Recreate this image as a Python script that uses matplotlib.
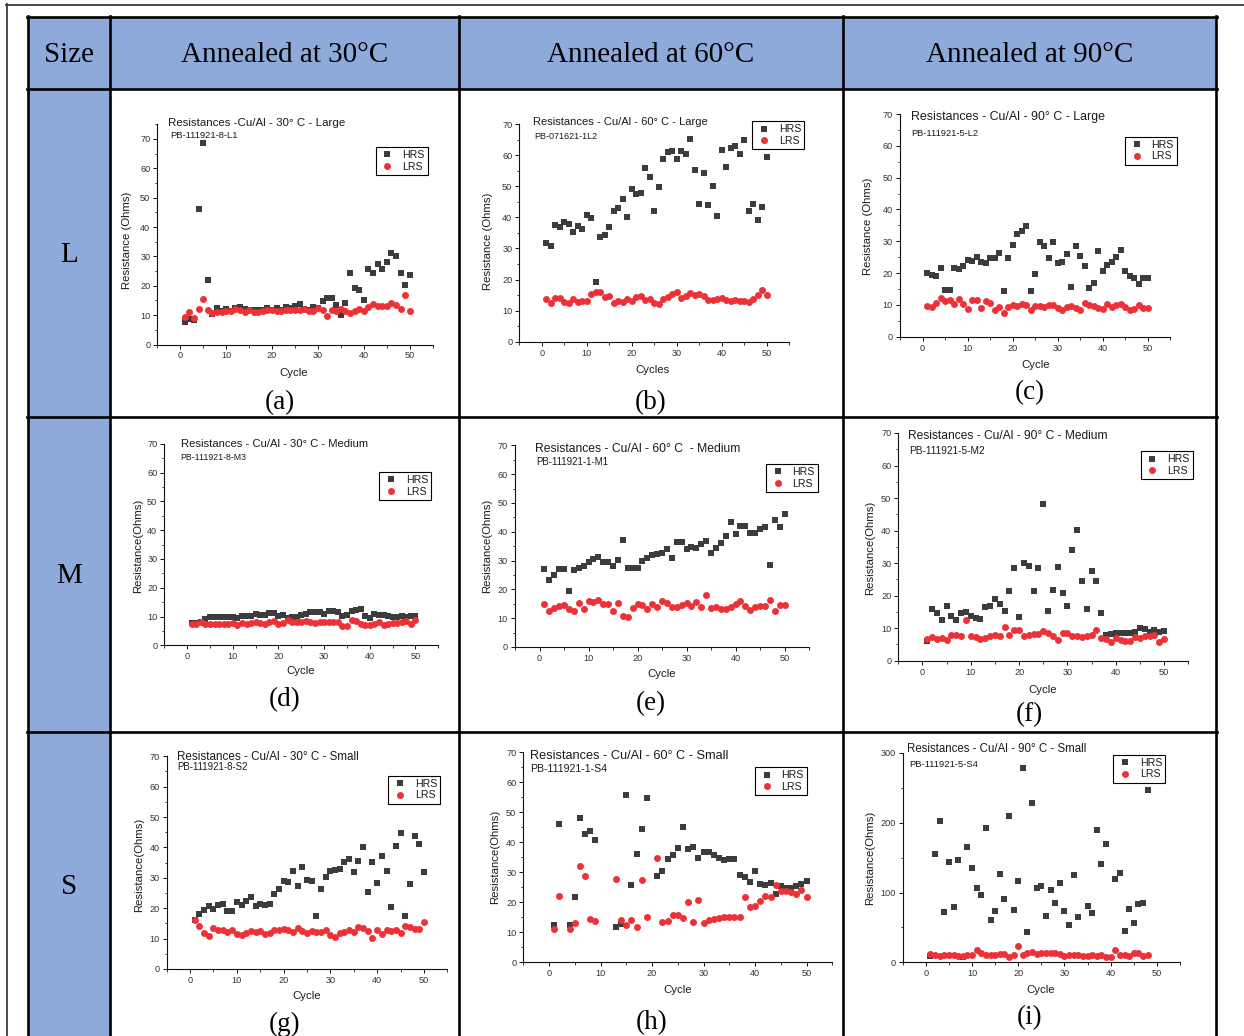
import numpy as np
import matplotlib
matplotlib.use('Agg')
import matplotlib.pyplot as plt
import matplotlib.transforms as mtransforms
from matplotlib.patches import Rectangle
from matplotlib.lines import Line2D
from matplotlib.ticker import MultipleLocator

# ---------------- data ----------------
col_headers = ["Size", "Annealed at 30°C", "Annealed at 60°C", "Annealed at 90°C"]
row_labels = ["L", "M", "S"]
captions = ["(a)", "(b)", "(c)", "(d)", "(e)", "(f)", "(g)", "(h)", "(i)"]

titles = ["Resistances -Cu/Al - 30° C - Large",
          "Resistances - Cu/Al - 60° C - Large",
          "Resistances - Cu/Al - 90° C - Large",
          "Resistances - Cu/Al - 30° C - Medium",
          "Resistances - Cu/Al - 60° C  - Medium",
          "Resistances - Cu/Al - 90° C - Medium",
          "Resistances - Cu/Al - 30° C - Small",
          "Resistances - Cu/Al - 60° C - Small",
          "Resistances - Cu/Al - 90° C - Small"]
sample_ids = ["PB-111921-8-L1", "PB-071621-1L2", "PB-111921-5-L2",
              "PB-111921-8-M3", "PB-111921-1-M1", "PB-111921-5-M2",
              "PB-111921-8-S2", "PB-111921-1-S4", "PB-111921-5-S4"]
ylabels = ["Resistance (Ohms)", "Resistance (Ohms)", "Resistance (Ohms)",
           "Resistance(Ohms)", "Resistance(Ohms)", "Resistance(Ohms)",
           "Resistance(Ohms)", "Resistance(Ohms)", "Resistance(Ohms)"]
xlabels = ["Cycle", "Cycles", "Cycle", "Cycle", "Cycle", "Cycle", "Cycle", "Cycle", "Cycle"]
series_names = ["HRS", "LRS"]

cycles_50 = list(range(1, 51))

HRS_a = [7.8, 8.8, 8.5, 46.3, 68.8, 21.8, 10.3, 12.3, 11.5, 12.0,
         11.5, 12.3, 12.7, 12.0, 11.7, 11.7, 11.7, 11.7, 12.6, 11.9,
         12.3, 11.7, 12.8, 12.5, 13.1, 13.7, 12.2, 11.7, 12.8, 12.6,
         14.7, 15.7, 16.0, 13.4, 9.9, 14.2, 24.4, 19.4, 18.5, 15.0,
         25.6, 24.4, 27.3, 25.6, 28.0, 31.0, 30.3, 24.3, 20.1, 23.8]
LRS_a = [9.5, 11.0, 9.1, 12.0, 15.6, 11.8, 10.8, 10.9, 11.1, 11.5,
         11.4, 12.0, 11.6, 11.1, 11.7, 10.9, 10.9, 11.5, 11.7, 11.7,
         11.5, 11.3, 11.8, 11.9, 11.8, 11.7, 12.0, 11.3, 11.4, 12.3,
         11.6, 9.7, 11.6, 11.3, 12.0, 11.4, 10.8, 11.3, 12.2, 11.5,
         12.8, 13.9, 13.2, 13.1, 13.2, 14.2, 13.4, 12.2, 16.7, 11.4]

HRS_b = [31.8, 30.9, 37.5, 36.8, 38.6, 37.9, 35.4, 37.2, 36.3, 40.6,
         39.9, 19.3, 33.7, 34.2, 36.9, 42.1, 43.0, 46.0, 40.2, 49.1,
         47.4, 47.9, 55.7, 53.0, 42.1, 49.6, 58.6, 60.9, 61.3, 58.8,
         61.2, 60.3, 65.1, 55.1, 44.4, 54.1, 44.0, 50.2, 40.3, 61.5,
         56.2, 62.4, 62.8, 60.3, 64.7, 41.9, 44.3, 39.1, 43.2, 59.4]
LRS_b = [13.6, 12.6, 14.0, 14.2, 12.8, 12.6, 13.7, 12.9, 13.2, 13.2,
         15.3, 15.9, 16.1, 14.5, 14.8, 12.3, 13.0, 12.8, 13.7, 13.0,
         14.4, 14.7, 13.4, 13.6, 12.3, 12.2, 13.7, 14.5, 15.3, 16.0,
         14.1, 14.7, 15.5, 14.9, 15.2, 14.8, 13.3, 13.4, 13.6, 14.0,
         13.5, 13.0, 13.3, 13.0, 13.0, 12.9, 13.6, 15.1, 16.5, 15.0]

HRS_c = [20.1, 19.5, 19.1, 21.7, 14.6, 14.7, 21.6, 21.3, 22.3, 24.0,
         23.9, 24.9, 23.6, 23.3, 24.6, 24.8, 26.2, 14.3, 24.7, 28.7,
         32.4, 33.1, 34.9, 14.3, 19.8, 29.7, 28.6, 24.8, 29.8, 23.3,
         23.6, 26.1, 15.5, 28.4, 25.5, 22.1, 15.4, 16.9, 26.8, 20.6,
         22.5, 23.4, 25.1, 27.1, 20.5, 19.1, 18.4, 16.5, 18.5, 18.5]
LRS_c = [9.6, 9.4, 10.5, 12.3, 11.1, 11.4, 10.2, 12.0, 10.2, 8.6,
         11.4, 11.5, 9.0, 11.3, 10.7, 8.4, 9.4, 7.5, 9.3, 10.1,
         9.5, 10.3, 10.0, 8.5, 9.7, 9.5, 9.2, 10.1, 10.0, 9.0,
         8.5, 9.2, 9.7, 9.1, 8.4, 10.5, 10.1, 9.5, 8.9, 8.8,
         10.2, 9.2, 9.9, 10.3, 9.2, 8.3, 8.6, 9.9, 9.1, 9.0]

HRS_d = [7.6, 7.8, 8.0, 9.0, 9.7, 9.7, 9.8, 9.8, 10.0, 10.0,
         9.6, 10.2, 10.2, 10.3, 10.8, 10.4, 10.6, 11.2, 11.3, 10.1,
         10.4, 9.5, 9.8, 10.0, 10.4, 10.9, 11.6, 11.7, 11.6, 10.8,
         11.8, 11.8, 11.5, 10.3, 10.4, 12.0, 12.1, 12.7, 10.3, 9.5,
         10.9, 10.4, 10.4, 10.2, 10.0, 9.8, 10.1, 9.7, 10.2, 10.2]
LRS_d = [7.4, 7.4, 8.0, 7.3, 7.5, 7.5, 7.4, 7.5, 7.5, 7.6,
         7.1, 7.9, 7.5, 7.9, 8.2, 7.9, 7.5, 8.1, 8.3, 7.3,
         7.9, 8.9, 8.1, 8.2, 8.2, 8.3, 8.1, 7.8, 8.2, 8.2,
         8.1, 8.1, 8.2, 6.6, 6.7, 8.8, 8.3, 7.5, 6.9, 6.9,
         7.4, 8.1, 6.9, 7.4, 7.8, 7.6, 8.1, 8.6, 7.3, 8.7]

HRS_e = [27.0, 23.1, 25.0, 27.1, 27.0, 19.4, 26.6, 27.3, 28.2, 29.6,
         30.4, 31.4, 29.5, 29.5, 28.1, 30.3, 37.1, 27.3, 27.3, 27.4,
         29.9, 30.9, 31.8, 32.2, 32.6, 34.0, 30.8, 36.6, 36.3, 34.0,
         34.8, 34.5, 35.6, 36.8, 32.5, 34.4, 36.0, 38.6, 43.5, 39.3,
         42.0, 41.9, 39.6, 39.6, 40.8, 41.5, 28.5, 44.2, 41.8, 46.2]
LRS_e = [14.9, 12.5, 13.4, 14.2, 14.7, 13.1, 12.6, 15.3, 13.1, 15.9,
         15.6, 16.2, 15.0, 14.9, 12.6, 15.4, 10.8, 10.3, 13.7, 14.8,
         14.7, 13.2, 14.9, 13.8, 15.9, 15.4, 14.0, 14.0, 14.5, 15.2,
         14.2, 15.7, 13.8, 18.0, 13.4, 14.0, 13.2, 13.3, 14.0, 14.9,
         16.0, 14.3, 12.8, 14.0, 14.2, 14.2, 16.2, 12.4, 14.7, 14.7]

HRS_f = [6.0, 16.0, 14.6, 12.5, 16.8, 13.8, 12.5, 14.6, 14.9, 13.6,
         13.2, 12.7, 16.6, 16.9, 18.9, 17.5, 15.2, 21.3, 28.5, 13.5,
         29.9, 29.2, 21.3, 28.4, 48.2, 15.4, 21.7, 28.8, 20.9, 16.7,
         33.9, 40.2, 24.4, 15.9, 27.6, 24.6, 14.6, 8.0, 8.2, 8.5,
         8.5, 8.5, 8.5, 8.7, 10.0, 9.6, 8.9, 9.3, 8.9, 9.2]
LRS_f = [6.7, 7.3, 6.8, 7.0, 6.5, 8.0, 7.8, 7.6, 12.5, 7.5,
         7.2, 6.8, 7.0, 7.5, 8.0, 7.5, 10.4, 7.9, 9.3, 9.3,
         7.7, 8.0, 8.1, 8.2, 9.0, 8.4, 7.7, 6.3, 8.6, 8.5,
         7.6, 7.7, 7.3, 7.6, 7.8, 9.3, 7.1, 6.6, 5.9, 7.1,
         6.4, 6.0, 6.0, 7.2, 7.0, 7.6, 7.7, 8.0, 5.8, 6.6]

HRS_g = [16.1, 18.1, 19.4, 20.7, 19.6, 21.1, 21.3, 19.1, 19.2, 22.0,
         21.1, 22.5, 23.8, 20.6, 21.3, 21.0, 21.5, 24.6, 26.4, 29.1,
         28.5, 32.1, 27.3, 33.5, 29.3, 29.0, 17.6, 26.3, 30.2, 32.1,
         32.6, 32.8, 35.1, 36.1, 31.9, 35.5, 40.2, 25.5, 35.1, 28.4,
         37.1, 32.3, 20.4, 40.5, 44.8, 17.3, 27.9, 43.8, 41.0, 32.0]
LRS_g = [16.1, 14.3, 12.0, 11.0, 13.6, 12.8, 12.8, 12.2, 12.9, 11.5,
         11.2, 11.8, 12.5, 12.3, 12.6, 11.4, 11.8, 12.9, 12.7, 13.1,
         12.8, 12.3, 13.6, 12.5, 11.7, 12.6, 12.2, 12.3, 12.9, 11.3,
         10.4, 11.7, 12.1, 12.9, 12.3, 13.7, 13.6, 12.6, 10.2, 12.8,
         11.5, 12.9, 12.5, 12.9, 12.0, 14.0, 13.9, 13.2, 13.1, 15.4]

cycles_h = [1, 2, 4, 5, 6, 7, 8, 9, 13, 14, 15, 16, 17, 18, 19] + list(range(21, 51))
HRS_h = [12.3, 46.1, 12.3, 21.7, 48.2, 42.8, 43.8, 40.7,
         11.7, 12.8, 55.6, 25.7, 36.0, 44.4, 54.6,
         28.8, 30.3, 34.3, 35.6, 38.0, 45.2, 37.9, 38.4, 34.7, 36.7,
         36.7, 35.6, 34.9, 34.0, 34.3, 34.4, 29.2, 28.4, 26.8, 30.4,
         26.2, 25.9, 26.4, 22.7, 25.3, 24.7, 24.8, 25.3, 26.2, 27.0]
LRS_h = [11.1, 22.0, 11.1, 13.2, 32.1, 28.9, 14.6, 13.8,
         27.7, 14.1, 12.6, 14.1, 11.7, 27.4, 15.0,
         34.6, 13.3, 13.9, 15.8, 15.7, 14.7, 20.0, 13.6, 20.8, 13.2,
         14.2, 14.6, 14.8, 15.0, 15.1, 15.2, 15.2, 21.9, 18.6, 18.8,
         20.6, 22.2, 21.8, 25.7, 23.8, 23.8, 23.3, 22.8, 24.0, 21.9]

cycles_i_hrs = list(range(1, 34)) + list(range(35, 40)) + list(range(41, 49))
HRS_i = [9, 155, 202, 72, 144, 79, 146, 8, 165, 135,
         107, 97, 192, 61, 74, 127, 91, 209, 75, 117,
         278, 44, 228, 107, 110, 66, 103, 85, 114, 74,
         53, 125, 65,
         80, 70, 190, 141, 170,
         119, 128, 45, 77, 56, 84, 85, 247]
cycles_i_lrs = list(range(1, 49))
LRS_i = [12, 10, 9, 11, 10, 10, 9, 9, 11, 10,
         17, 13, 10, 11, 10, 12, 12, 8, 11, 24,
         11, 14, 15, 12, 13, 13, 14, 13, 12, 9,
         11, 10, 10, 9, 9, 10, 9, 10, 8, 8,
         17, 10, 10, 9, 13, 13, 9, 11]

panels_data = [
    (cycles_50, HRS_a, cycles_50, LRS_a),
    (cycles_50, HRS_b, cycles_50, LRS_b),
    (cycles_50, HRS_c, cycles_50, LRS_c),
    (cycles_50, HRS_d, cycles_50, LRS_d),
    (cycles_50, HRS_e, cycles_50, LRS_e),
    (cycles_50, HRS_f, cycles_50, LRS_f),
    (cycles_50, HRS_g, cycles_50, LRS_g),
    (cycles_h, HRS_h, cycles_h, LRS_h),
    (cycles_i_hrs, HRS_i, cycles_i_lrs, LRS_i),
]
y_max = [75, 70, 70, 70, 70, 70, 70, 70, 300]
y_major = [10, 10, 10, 10, 10, 10, 10, 10, 100]

# ---------------- layout (pixels, from top-left) ----------------
W, H = 1244, 1036
# axes rectangles: left, top, right, bottom
ax_rects = [(157.3, 124.3, 432.7, 344.5), (519.3, 124.0, 789.3, 341.7), (900.0, 114.0, 1170.0, 336.7),
            (164.3, 443.7, 438.3, 645.3), (515.0, 445.3, 809.0, 647.0), (898.3, 433.0, 1188.3, 660.7),
            (166.7, 756.3, 447.3, 969.0), (523.3, 752.3, 832.3, 962.3), (902.7, 753.0, 1180.0, 962.3)]
title_pos = [(168, 123, 177), (532.7, 122.3, 176), (910.7, 116.7, 195),
             (180.7, 444, 189), (535, 448.7, 207), (908.3, 435.7, 201),
             (176.7, 757, 183), (530, 755.7, 200), (906.7, 748.7, 181)]
sub_pos = [(170, 135.7, 68), (534, 136.7, 64), (911, 133.3, 67),
           (180.7, 458, 66), (536, 462.3, 74), (909.3, 451.3, 75),
           (177.3, 767.3, 71), (530, 768.7, 77), (909, 764.7, 70)]
legend_pos = [(375.7, 147), (752.3, 121.3), (1125, 136.7),
              (379.3, 472), (766, 464), (1140.7, 451.3),
              (388.3, 775.7), (755, 767.3), (1113.3, 754.7)]
xlabel_pos = [(294, 373), (653, 370), (1035.7, 365), (300.7, 671.3), (661.3, 673.7),
              (1042.3, 690.3), (306.7, 996.3), (677.7, 989.7), (1041, 989.7)]
ylabel_pos = [(127, 240), (488.3, 241.7), (867.7, 226.7), (138.3, 545.5), (486.7, 546.3),
              (870, 548), (139.3, 864.7), (495, 857), (870, 858)]
caption_pos = [(280, 403), (651, 403), (1030, 393), (285, 699.5), (651, 703.5),
               (1029.3, 714.5), (285, 1024.5), (651.7, 1022.8), (1029.3, 1017.8)]

SANS = ['Liberation Sans', 'DejaVu Sans']
SERIF = ['Liberation Serif', 'DejaVu Serif']
BLUE = '#8eaadb'
HRS_COLOR = '#3c3c3c'
LRS_COLOR = '#ec3237'
TXT = '#1a1a1a'

fig = plt.figure(figsize=(W / 100, H / 100), dpi=100)
fig.patch.set_facecolor('white')
PX = mtransforms.Affine2D().scale(1 / W, -1 / H).translate(0, 1) + fig.transFigure
renderer = fig.canvas.get_renderer()

# ---------------- table background ----------------
tab_l, tab_r, tab_t, tab_b = 28, 1216, 17, 1045
hdr_b = 88.5
col_x = [28, 110, 459, 843, 1216]
row_y = [17, 88.5, 416.5, 732, 1045]

fig.add_artist(Rectangle((tab_l, tab_t), tab_r - tab_l, hdr_b - tab_t, transform=PX,
                         facecolor=BLUE, edgecolor='none', zorder=0.5))
fig.add_artist(Rectangle((col_x[0], hdr_b), col_x[1] - col_x[0], tab_b - hdr_b, transform=PX,
                         facecolor=BLUE, edgecolor='none', zorder=0.5))

# outer page frame
fig.add_artist(Line2D([6, W], [4.5, 4.5], transform=PX, color='#3a3a3a', lw=1.3, zorder=3))
fig.add_artist(Line2D([6.5, 6.5], [4, H], transform=PX, color='#3a3a3a', lw=1.3, zorder=3))

# table grid
for yy in row_y[:-1]:
    fig.add_artist(Line2D([tab_l - 1, tab_r + 1], [yy, yy], transform=PX, color='black', lw=1.9, zorder=3))
for xx in col_x:
    fig.add_artist(Line2D([xx, xx], [tab_t - 1, tab_b], transform=PX, color='black', lw=1.9, zorder=3))

# header text
hdr_cy = 55
for i, s in enumerate(col_headers):
    cx = (col_x[i] + col_x[i + 1]) / 2
    fig.text(cx, hdr_cy, s, transform=PX, ha='center', va='center',
             fontsize=21, family=SERIF, color='black')
row_cy = [255, 576, 887]
for s, cy in zip(row_labels, row_cy):
    fig.text(69, cy, s, transform=PX, ha='center', va='center',
             fontsize=21, family=SERIF, color='black')


def fit_text(x, y, s, width, base):
    t = fig.text(x, y, s, transform=PX, ha='left', va='center',
                 fontsize=base, family=SANS, color=TXT, zorder=4)
    w = t.get_window_extent(renderer).width
    t.set_fontsize(base * width / w)
    return t


# ---------------- panels ----------------
for k in range(9):
    l, t, r, b = ax_rects[k]
    ax = fig.add_axes([l / W, 1 - b / H, (r - l) / W, (b - t) / H])
    ax.patch.set_alpha(0)
    xh, yh, xl, yl = panels_data[k]
    ax.plot(xh, yh, ls='none', marker='s', ms=4.4, color=HRS_COLOR, mec=HRS_COLOR,
            mew=0, label=series_names[0], zorder=3)
    ax.plot(xl, yl, ls='none', marker='o', ms=5.0, color=LRS_COLOR, mec=LRS_COLOR,
            mew=0, label=series_names[1], zorder=4)
    ax.set_xlim(-5, 55)
    ax.set_ylim(0, y_max[k])
    ax.xaxis.set_major_locator(MultipleLocator(10))
    ax.xaxis.set_minor_locator(MultipleLocator(5))
    ax.yaxis.set_major_locator(MultipleLocator(y_major[k]))
    ax.yaxis.set_minor_locator(MultipleLocator(y_major[k] / 2))
    for sp in ['top', 'right']:
        ax.spines[sp].set_visible(False)
    for sp in ['left', 'bottom']:
        ax.spines[sp].set_linewidth(0.8)
        ax.spines[sp].set_color('#111111')
    ax.tick_params(which='major', direction='out', length=3, width=0.7, labelsize=6.6,
                   pad=2, colors='#111111', labelcolor='#333333')
    ax.tick_params(which='minor', direction='out', length=1.8, width=0.6, colors='#111111')
    for lab in ax.get_xticklabels() + ax.get_yticklabels():
        lab.set_family(SANS)

    ax.set_xlabel(xlabels[k], fontsize=8.2, family=SANS, color=TXT, va='center', ha='center')
    ax.xaxis.set_label_coords(*xlabel_pos[k], transform=PX)
    ax.set_ylabel(ylabels[k], fontsize=8.2, family=SANS, color=TXT, va='center', ha='center')
    ax.yaxis.set_label_coords(*ylabel_pos[k], transform=PX)

    handles = [Line2D([], [], ls='none', marker='s', ms=4.4, color=HRS_COLOR, mew=0),
               Line2D([], [], ls='none', marker='o', ms=5.0, color=LRS_COLOR, mew=0)]
    leg = ax.legend(handles, series_names, loc='upper left', bbox_to_anchor=legend_pos[k],
                    bbox_transform=PX, frameon=True, fancybox=False,
                    edgecolor='black', framealpha=1, borderpad=0.3, labelspacing=0.15,
                    handlelength=1.6, handletextpad=0.6, borderaxespad=0,
                    prop={'family': SANS, 'size': 7.6})
    leg.get_frame().set_linewidth(0.8)
    for txt in leg.get_texts():
        txt.set_color(TXT)

    tx, ty, tw = title_pos[k]
    fit_text(tx, ty, titles[k], tw, 8)
    sx, sy, sw = sub_pos[k]
    fit_text(sx, sy, sample_ids[k], sw, 6)

    cx, cy = caption_pos[k]
    fig.text(cx, cy, captions[k], transform=PX, ha='center', va='center',
             fontsize=19.5, family=SERIF, color='black')

fig.savefig('out.png', dpi=100, facecolor='white')
